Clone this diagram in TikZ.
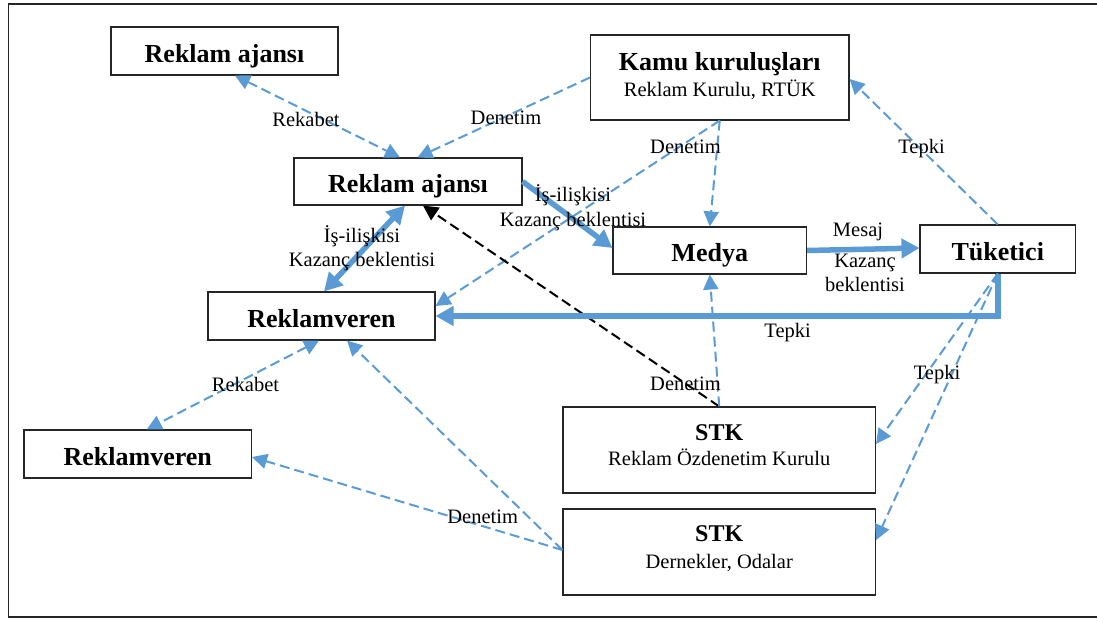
\documentclass[tikz,border=0pt]{standalone}
\usepackage{fontspec}
\setmainfont{Liberation Serif}
\usetikzlibrary{arrows.meta,calc}
\definecolor{bl}{RGB}{91,155,213}
\newcommand\bfnt{\fontsize{26}{30}\selectfont\bfseries}
\newcommand\rfnt{\fontsize{20.5}{24}\selectfont}
\begin{document}
\begin{tikzpicture}[x=1pt,y=-1pt,
 box/.style={draw=black!85, line width=1.1pt, inner sep=0pt, align=center},
 sbox/.style={box, font=\bfnt, text height=28.5pt, text depth=5.7pt},
 lbl/.style={font=\rfnt, inner sep=0pt, anchor=base},
 mlbl/.style={font=\rfnt, inner sep=0pt, align=center},
 dl/.style={draw=bl, line width=2pt, dash pattern=on 10pt off 5pt},
 dk/.style={draw=black, line width=2pt, dash pattern=on 10pt off 5pt},
 ta/.style={-{Triangle[length=15pt,width=15pt]}},
 tb/.style={{Triangle[length=15pt,width=15pt]}-{Triangle[length=15pt,width=15pt]}},
 kl/.style={draw=bl, line width=5.5pt},
 ka/.style={-{Triangle[length=18pt,width=19pt]}},
 kb/.style={{Triangle[length=18pt,width=19pt]}-{Triangle[length=18pt,width=19pt]}},
]
\useasboundingbox (0,0) rectangle (1097,619);
\draw[line width=1.3pt, black!85] (1097,4) -- (8.5,4) -- (8.5,617) -- (1097,617);

% boxes
\node[sbox, minimum width=227pt, minimum height=48pt] (ra1) at (224.5,51) {Reklam ajansı};
\node[sbox, minimum width=228pt, minimum height=47pt] (ra2) at (408,181.5) {Reklam ajansı};
\node[sbox, minimum width=227pt, minimum height=48pt] (rv1) at (321.5,316) {Reklamveren};
\node[sbox, minimum width=227.5pt, minimum height=48pt] (rv2) at (137.75,454) {Reklamveren};
\node[sbox, minimum width=193.5pt, minimum height=47pt] (med) at (709.75,250.5) {Medya};
\node[sbox, minimum width=155.5pt, minimum height=48pt] (tuk) at (997.75,249) {Tüketici};
\node[box, font=\fontsize{20.5}{26}\selectfont, minimum width=258.5pt, minimum height=85pt] (kam) at (719.75,77.5)
  {{\bfnt Kamu kuruluşları}\rule{0pt}{18pt}\\Reklam Kurulu, RTÜK\rule[-7pt]{0pt}{7pt}};
\node[box, font=\fontsize{20.5}{25}\selectfont, minimum width=312.5pt, minimum height=86pt] (stk1) at (719.25,450)
  {{\fontsize{24}{28}\selectfont\bfseries STK}\rule{0pt}{17pt}\\Reklam Özdenetim Kurulu\rule[-12pt]{0pt}{12pt}};
\node[box, font=\fontsize{20.5}{26.5}\selectfont, minimum width=312.5pt, minimum height=86pt] (stk2) at (719.25,552)
  {{\fontsize{24}{28}\selectfont\bfseries STK}\rule{0pt}{17pt}\\Dernekler, Odalar\rule[-11pt]{0pt}{11pt}};

% connectors
\draw[dl,tb] ($(ra1.south)+(10.5,0)$) -- ($(ra2.north)+(-8,0)$);
\draw[dl,ta] (kam.west) -- ($(ra2.north)+(9.5,0)$);
\draw[dl,ta] (kam.south) -- (med.north);
\draw[dl,ta] (kam.south) -- ($(rv1.east)+(0,-10)$);
\draw[kl,ka] (ra2.east) -- ($(med.west)+(0,-2.5)$);
\draw[kl,kb] ($(ra2.south)+(-3,0)$) -- ($(rv1.north)+(2.5,0)$);
\draw[dk,ta] (stk1.north) -- ($(ra2.south)+(15,0)$);
\draw[kl,ka] (med.east) -- ($(tuk.west)+(0,-1)$);
\draw[kl,ka] (tuk.south) |- (rv1.east);
\draw[dl,ta] (tuk.north) -- ($(kam.east)+(0,1.5)$);
\draw[dl,ta] (stk1.north) -- (med.south);
\draw[dl,ta] (tuk.south) -- ($(stk1.east)+(0,-6)$);
\draw[dl,ta] (tuk.south) -- ($(stk2.east)+(0,-12)$);
\draw[dl,tb] ($(rv1.south)+(-2.5,0)$) -- ($(rv2.north)+(9,0)$);
\draw[dl,ta] ($(stk2.west)+(0,-2)$) -- ($(rv1.south)+(25.5,0)$);
\draw[dl,ta] ($(stk2.west)+(0,-2)$) -- ($(rv2.east)+(0,3)$);

% labels
\node[lbl] (l1) at (306,126.7) {Rekabet};
\node[lbl] (l2) at (506,124) {Denetim};
\node[lbl] (l3) at (685.5,153.3) {Denetim};
\node[lbl] (l4) at (921.5,153) {Tepki};
\node[lbl] (l5) at (858,236.5) {Mesaj};
\node[lbl] (l6) at (787.6,337.3) {Tepki};
\node[lbl] (l7) at (937,379.3) {Tepki};
\node[lbl] (l8) at (685.5,390) {Denetim};
\node[lbl] (l9) at (245.5,391.7) {Rekabet};
\node[lbl] (l10) at (482.7,523.3) {Denetim};
\node[mlbl] (m1) at (573,207.7) {İş-ilişkisi\rule{0pt}{18pt}\\[1pt]Kazanç beklentisi\rule[-5pt]{0pt}{5pt}};
\node[mlbl] (m2) at (362,248.2) {İş-ilişkisi\rule{0pt}{18pt}\\Kazanç beklentisi\rule[-5pt]{0pt}{5pt}};
\node[mlbl] (m3) at (865,272.75) {Kazanç\rule{0pt}{18pt}\\[0.5pt]beklentisi\rule[-5pt]{0pt}{5pt}};
\end{tikzpicture}
\end{document}
